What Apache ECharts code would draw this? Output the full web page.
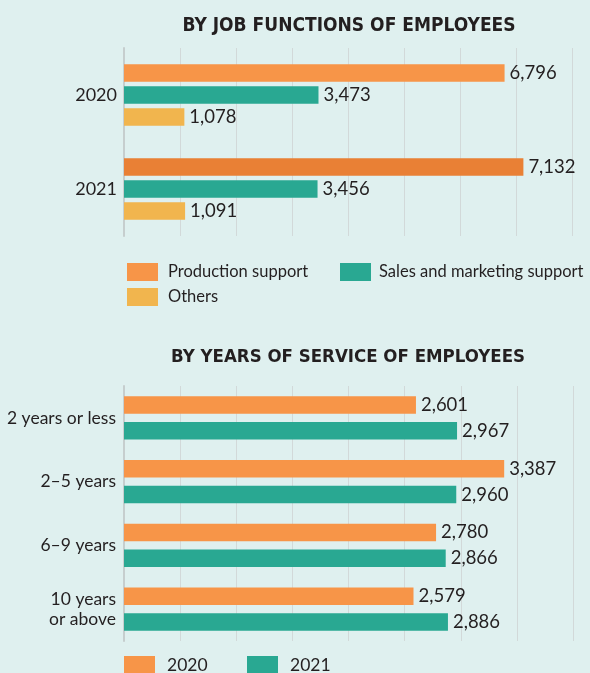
<!DOCTYPE html>
<html>
<head>
<meta charset="utf-8">
<script src="https://cdn.jsdelivr.net/npm/echarts@6/dist/echarts.min.js"></script>
<style>
  html, body { margin: 0; padding: 0; background: #dff0ef; }
  #chart { width: 590px; height: 673px; }
</style>
</head>
<body>
<div id="chart"></div>
<script>
// Employees by job function
const jobYears = ['2020', '2021'];
const productionSupport = [6796, 7132];
const salesMarketing = [3473, 3456];
const others = [1078, 1091];

// Employees by years of service
const serviceBands = ['2 years or less', '2\u20135 years', '6\u20139 years', '10 years\nor above'];
const service2020 = [2601, 3387, 2780, 2579];
const service2021 = [2967, 2960, 2866, 2886];

const FONT = 'Lato, "Open Sans", sans-serif';
const TITLE_FONT = '"Liberation Sans Narrow", "DejaVu Sans Condensed", sans-serif';
const INK = '#231f20';
const ORANGE = '#f79548';
const ORANGE_DARK = '#e98035';
const TEAL = '#29a892';
const YELLOW = '#f1b54e';
const GRID_LINE = '#d2d9d9';

const fmt = v => Number(v).toLocaleString('en-US');

const valueLabel = {
  show: true,
  position: 'right',
  distance: 5,
  color: INK,
  fontFamily: FONT,
  fontSize: 18.5,
  formatter: p => fmt(p.value)
};

function legendAt(name, left, top, fontSize, textGap) {
  return {
    data: [name],
    left: left,
    top: top,
    padding: 0,
    itemWidth: 31,
    itemHeight: 18,
    icon: 'rect',
    textStyle: { color: INK, fontFamily: FONT, fontSize: fontSize, padding: [0, 0, 0, textGap] }
  };
}

const chart = echarts.init(document.getElementById('chart'), null, { renderer: 'canvas' });

chart.setOption({
  backgroundColor: '#dff0ef',
  animation: false,
  title: [
    {
      text: 'BY JOB FUNCTIONS OF EMPLOYEES',
      left: 344, top: 12, textAlign: 'center',
      textStyle: { fontFamily: TITLE_FONT, fontWeight: 'bold', fontSize: 19, color: INK }
    },
    {
      text: 'BY YEARS OF SERVICE OF EMPLOYEES',
      left: 343, top: 343, textAlign: 'center',
      textStyle: { fontFamily: TITLE_FONT, fontWeight: 'bold', fontSize: 18.5, color: INK }
    }
  ],
  legend: [
    legendAt('Production support', 127, 263, 16.5, 5),
    legendAt('Sales and marketing support', 340, 263, 16.5, 3),
    legendAt('Others', 127, 288, 16.5, 5),
    legendAt('2020', 124, 656, 17.5, 7),
    legendAt('2021', 247, 656, 17.5, 7)
  ],
  grid: [
    { left: 124, right: 18, top: 48, height: 188 },
    { left: 124, right: 17, top: 386, height: 255 }
  ],
  xAxis: [
    {
      gridIndex: 0, type: 'value', min: 0, max: 8000, interval: 1000,
      axisLabel: { show: false }, axisLine: { show: false }, axisTick: { show: false },
      splitLine: { show: true, lineStyle: { color: GRID_LINE, width: 1 } }
    },
    {
      gridIndex: 1, type: 'value', min: 0, max: 4000, interval: 500,
      axisLabel: { show: false }, axisLine: { show: false }, axisTick: { show: false },
      splitLine: { show: true, lineStyle: { color: GRID_LINE, width: 1 } }
    }
  ],
  yAxis: [
    {
      gridIndex: 0, type: 'category', data: jobYears, inverse: true,
      axisTick: { show: false },
      axisLine: { show: true, lineStyle: { color: '#c6cece', width: 2 } },
      axisLabel: { color: INK, fontFamily: FONT, fontSize: 18, margin: 7 }
    },
    {
      gridIndex: 1, type: 'category', data: serviceBands, inverse: true,
      axisTick: { show: false },
      axisLine: { show: true, lineStyle: { color: '#c6cece', width: 2 } },
      axisLabel: { color: INK, fontFamily: FONT, fontSize: 17.5, margin: 8, lineHeight: 20 }
    }
  ],
  series: [
    {
      name: 'Production support', type: 'bar', xAxisIndex: 0, yAxisIndex: 0,
      barWidth: 17.5, barGap: '26%',
      itemStyle: { color: ORANGE },
      data: productionSupport.map((v, i) => i === 1 ? { value: v, itemStyle: { color: ORANGE_DARK } } : v),
      label: valueLabel
    },
    {
      name: 'Sales and marketing support', type: 'bar', xAxisIndex: 0, yAxisIndex: 0,
      barWidth: 17.5, barGap: '26%',
      itemStyle: { color: TEAL },
      data: salesMarketing,
      label: valueLabel
    },
    {
      name: 'Others', type: 'bar', xAxisIndex: 0, yAxisIndex: 0,
      barWidth: 17.5, barGap: '26%',
      itemStyle: { color: YELLOW },
      data: others,
      label: valueLabel
    },
    {
      name: '2020', type: 'bar', xAxisIndex: 1, yAxisIndex: 1,
      barWidth: 17.5, barGap: '48%',
      itemStyle: { color: ORANGE },
      data: service2020,
      label: valueLabel
    },
    {
      name: '2021', type: 'bar', xAxisIndex: 1, yAxisIndex: 1,
      barWidth: 17.5, barGap: '48%',
      itemStyle: { color: TEAL },
      data: service2021,
      label: valueLabel
    }
  ]
});
</script>
</body>
</html>
